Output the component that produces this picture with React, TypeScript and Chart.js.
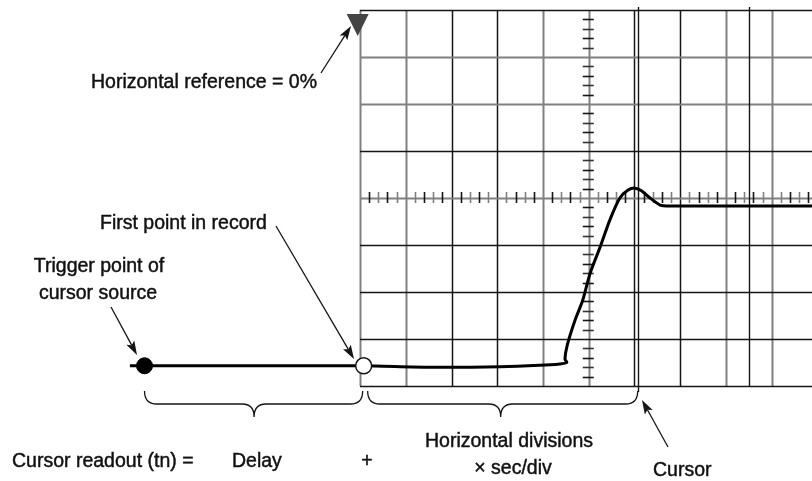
import React, { useEffect, useRef } from "react";
import { Chart, registerables } from "chart.js";

Chart.register(...registerables);

// Waveform in scope divisions (x: divisions from left graticule edge, y: divisions from centre, up positive)
const waveX = [-5.03, -3.5, -1.31, 0.07, 1.53, 3.06, 3.93, 4.37, 4.52, 4.48, 4.53, 4.7, 4.87, 5.03, 5.25, 5.46, 5.68, 5.86, 6.01, 6.16, 6.34, 6.56, 6.78, 8.0, 9.9];
const waveY = [-3.57, -3.57, -3.57, -3.57, -3.6, -3.59, -3.56, -3.53, -3.5, -3.43, -3.13, -2.6, -2.17, -1.6, -1.04, -0.47, 0.0, 0.17, 0.21, 0.15, 0.0, -0.15, -0.17, -0.17, -0.17];
const triggerPoint = { x: -4.71, y: -3.57 };
const firstPoint = { x: 0.08, y: -3.57 };
const cursorDiv = 6.07;
const cursor2Div = 8.5;
const gridXDivs = [0, 1, 2, 3, 4, 5, 6, 7, 8, 9];
const gridYDivs = [4, 3, 2, 1, 0, -1, -2, -3, -4];
const refMarkerX = -0.05;

const labels = {
  hRef: "Horizontal reference = 0%",
  first: "First point in record",
  trig1: "Trigger point of",
  trig2: "cursor source",
  readout: "Cursor readout (tn) =",
  delay: "Delay",
  plus: "+",
  hdiv1: "Horizontal divisions",
  hdiv2: "\u00d7 sec/div",
  cursor: "Cursor",
};

const FONT = '19.5px "Liberation Sans", Arial, sans-serif';
const GREY = "#808080";
const BLACK = "#151515";

function arrow(ctx: CanvasRenderingContext2D, x1: number, y1: number, x2: number, y2: number) {
  const ang = Math.atan2(y2 - y1, x2 - x1);
  const L = 14, W = 4.5;
  ctx.save();
  ctx.strokeStyle = BLACK;
  ctx.fillStyle = BLACK;
  ctx.lineWidth = 1.3;
  ctx.beginPath();
  ctx.moveTo(x1, y1);
  ctx.lineTo(x2 - Math.cos(ang) * L * 0.8, y2 - Math.sin(ang) * L * 0.8);
  ctx.stroke();
  ctx.beginPath();
  ctx.moveTo(x2, y2);
  ctx.lineTo(x2 - Math.cos(ang) * L - Math.sin(ang) * W, y2 - Math.sin(ang) * L + Math.cos(ang) * W);
  ctx.lineTo(x2 - Math.cos(ang) * L * 0.8, y2 - Math.sin(ang) * L * 0.8);
  ctx.lineTo(x2 - Math.cos(ang) * L + Math.sin(ang) * W, y2 - Math.sin(ang) * L - Math.cos(ang) * W);
  ctx.closePath();
  ctx.fill();
  ctx.restore();
}

function brace(ctx: CanvasRenderingContext2D, x1: number, x2: number, tipX: number, top: number, mid: number, tip: number) {
  const r = 12;
  ctx.save();
  ctx.strokeStyle = BLACK;
  ctx.lineWidth = 1.3;
  ctx.beginPath();
  ctx.moveTo(x1, top);
  ctx.quadraticCurveTo(x1, mid, x1 + r, mid);
  ctx.lineTo(tipX - r, mid);
  ctx.quadraticCurveTo(tipX, mid, tipX, tip);
  ctx.moveTo(x2, top);
  ctx.quadraticCurveTo(x2, mid, x2 - r, mid);
  ctx.lineTo(tipX + r, mid);
  ctx.quadraticCurveTo(tipX, mid, tipX, tip);
  ctx.stroke();
  ctx.restore();
}

function label(ctx: CanvasRenderingContext2D, text: string, x: number, y: number, align: CanvasTextAlign) {
  ctx.textAlign = align;
  ctx.fillText(text, x, y);
  ctx.strokeText(text, x, y);
}

const gridPlugin = {
  id: "graticule",
  beforeDatasetsDraw(chart: any) {
    const ctx: CanvasRenderingContext2D = chart.ctx;
    const xs = chart.scales.x, ys = chart.scales.y;
    const left = xs.getPixelForValue(0);
    const right = chart.chartArea.right;
    const top = ys.getPixelForValue(4);
    const bottom = ys.getPixelForValue(-4);
    const vColors = [GREY, GREY, BLACK, BLACK, GREY, GREY, BLACK, BLACK, GREY, GREY];
    const hColors = [BLACK, GREY, GREY, BLACK, GREY, BLACK, BLACK, BLACK, BLACK];
    ctx.save();
    gridXDivs.forEach((d, i) => {
      const x = Math.round(xs.getPixelForValue(d)) + 0.5;
      ctx.strokeStyle = vColors[i];
      ctx.lineWidth = vColors[i] === GREY ? 2 : 1.5;
      ctx.beginPath();
      ctx.moveTo(x, top);
      ctx.lineTo(x, bottom);
      ctx.stroke();
    });
    gridYDivs.forEach((d, i) => {
      const y = Math.round(ys.getPixelForValue(d)) + 0.5;
      ctx.strokeStyle = hColors[i];
      ctx.lineWidth = hColors[i] === GREY ? 2 : 1.5;
      ctx.beginPath();
      ctx.moveTo(left, y);
      ctx.lineTo(right, y);
      ctx.stroke();
    });
    // cursors
    ctx.strokeStyle = BLACK;
    ctx.lineWidth = 1.4;
    const c1 = Math.round(xs.getPixelForValue(cursorDiv)) + 0.5;
    ctx.beginPath();
    ctx.moveTo(c1, top - 3);
    ctx.lineTo(c1, bottom + 6);
    ctx.stroke();
    const c2 = Math.round(xs.getPixelForValue(cursor2Div)) + 0.5;
    ctx.beginPath();
    ctx.moveTo(c2, top - 3);
    ctx.lineTo(c2, bottom);
    ctx.stroke();
    // centre-axis minor ticks
    const cy = ys.getPixelForValue(0);
    const cx = xs.getPixelForValue(5);
    for (let k = 1; k < 50; k++) {
      const d = k / 5;
      if (k % 5 === 0) continue;
      const x = Math.round(xs.getPixelForValue(d)) + 0.5;
      if (x > right) break;
      ctx.strokeStyle = k % 2 ? BLACK : GREY;
      ctx.lineWidth = 1.6;
      ctx.beginPath();
      ctx.moveTo(x, cy - 6);
      ctx.lineTo(x, cy + 5);
      ctx.stroke();
    }
    for (let k = -19; k <= 19; k++) {
      if (k % 5 === 0) continue;
      const y = Math.round(ys.getPixelForValue(k / 5)) + 0.5;
      ctx.strokeStyle = k % 2 ? BLACK : "#333";
      ctx.lineWidth = 1.6;
      ctx.beginPath();
      ctx.moveTo(cx - 6, y);
      ctx.lineTo(cx + 5, y);
      ctx.stroke();
    }
    ctx.restore();
  },
  afterDatasetsDraw(chart: any) {
    const ctx: CanvasRenderingContext2D = chart.ctx;
    const xs = chart.scales.x, ys = chart.scales.y;
    // horizontal reference marker
    const mx = xs.getPixelForValue(refMarkerX);
    const mt = ys.getPixelForValue(4) + 4;
    ctx.save();
    ctx.fillStyle = "#444";
    ctx.beginPath();
    ctx.moveTo(mx - 11, mt);
    ctx.lineTo(mx + 11, mt);
    ctx.lineTo(mx, mt + 22);
    ctx.closePath();
    ctx.fill();
    ctx.restore();

    arrow(ctx, 321, 73, 351, 26);
    arrow(ctx, 276, 226, 354, 359);
    arrow(ctx, 111, 307, 137, 355);
    arrow(ctx, 668, 447, 642, 400);

    const tx = xs.getPixelForValue(triggerPoint.x);
    const fx = xs.getPixelForValue(firstPoint.x);
    const cx = xs.getPixelForValue(cursorDiv);
    brace(ctx, tx, fx - 1, (tx + fx) / 2, 391, 404, 417);
    brace(ctx, fx + 4, cx, (fx + cx) / 2, 391, 404, 417);

    ctx.save();
    ctx.fillStyle = "#111";
    ctx.strokeStyle = "#111";
    ctx.lineWidth = 0.45;
    ctx.font = FONT;
    ctx.textBaseline = "alphabetic";
    label(ctx, labels.hRef, 317, 88, "right");
    label(ctx, labels.first, 100, 229, "left");
    label(ctx, labels.trig1, 99, 272, "center");
    label(ctx, labels.trig2, 98, 299, "center");
    label(ctx, labels.readout, 12, 467, "left");
    label(ctx, labels.delay, 232, 467, "left");
    label(ctx, labels.plus, 367, 467, "center");
    label(ctx, labels.hdiv1, 509, 447, "center");
    label(ctx, labels.hdiv2, 513, 474, "center");
    label(ctx, labels.cursor, 653, 476, "left");
    ctx.restore();
  },
};

export default function App() {
  const ref = useRef<HTMLCanvasElement | null>(null);
  useEffect(() => {
    if (!ref.current) return;
    const wave = waveX.map((x, i) => ({ x, y: waveY[i] }));
    const chart = new Chart(ref.current, {
      type: "scatter",
      data: {
        datasets: [
          {
            data: [firstPoint],
            pointRadius: 8,
            pointBackgroundColor: "#fff",
            pointBorderColor: BLACK,
            pointBorderWidth: 1.5,
            showLine: false,
          },
          {
            data: [triggerPoint],
            pointRadius: 8,
            pointBackgroundColor: "#000",
            pointBorderColor: "#000",
            pointBorderWidth: 1,
            showLine: false,
          },
          {
            data: wave,
            showLine: true,
            borderColor: "#000",
            borderWidth: 3,
            pointRadius: 0,
            tension: 0.25,
          },
        ],
      },
      options: {
        animation: false,
        responsive: true,
        maintainAspectRatio: false,
        devicePixelRatio: 1,
        layout: { padding: 0, autoPadding: false },
        plugins: { legend: { display: false }, tooltip: { enabled: false } },
        events: [],
        scales: {
          x: { type: "linear", min: -360 / 45.75, max: (812 - 360) / 45.75, display: false },
          y: { type: "linear", min: -(481 - 198) / 47, max: 198 / 47, display: false },
        },
      },
      plugins: [gridPlugin],
    });
    return () => chart.destroy();
  }, []);
  return (
    <div style={{ position: "fixed", left: 0, top: 0, width: 812, height: 481, background: "#fff" }}>
      <canvas ref={ref} />
    </div>
  );
}
